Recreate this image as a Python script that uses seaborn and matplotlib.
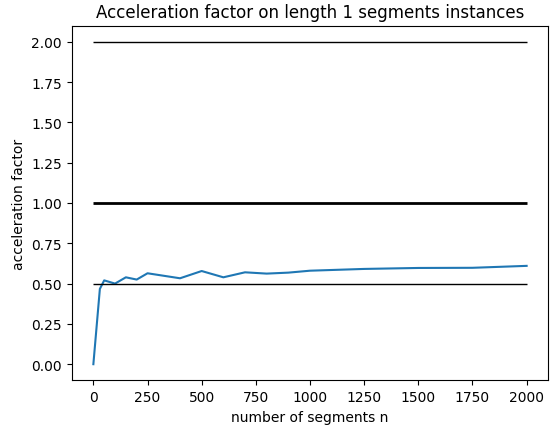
import numpy as np
import matplotlib
matplotlib.use("Agg")
import matplotlib.pyplot as plt
import seaborn as sns
import pandas as pd

# nombre de segments et facteur d'accélération mesuré
n_segments = [0, 30, 50, 100, 150, 200, 250, 400, 500, 600, 700, 800, 900,
              1000, 1250, 1500, 1750, 2000]
accel = [0.0, 0.467, 0.52, 0.50, 0.539, 0.525, 0.564, 0.533, 0.578, 0.539,
         0.57, 0.562, 0.568, 0.58, 0.591, 0.597, 0.598, 0.61]

# lignes de référence
ref_levels = [0.5, 1.0, 2.0]
ref_widths = [1.0, 2.0, 1.0]

df = pd.DataFrame({"n": n_segments, "acc": accel})

fig, ax = plt.subplots(figsize=(5.58, 4.27), dpi=100)
sns.lineplot(data=df, x="n", y="acc", ax=ax, color="#1f77b4")
for lvl, lw in zip(ref_levels, ref_widths):
    ax.hlines(lvl, min(n_segments), max(n_segments), colors="black", linewidth=lw)

ax.set_title("Acceleration factor on length 1 segments instances")
ax.set_xlabel("number of segments n")
ax.set_ylabel("acceleration factor")
ax.set_yticks(np.arange(0, 2.01, 0.25))

plt.subplots_adjust(left=0.1285, right=0.9826, top=0.9375, bottom=0.107)
plt.savefig("out.png", dpi=100)
